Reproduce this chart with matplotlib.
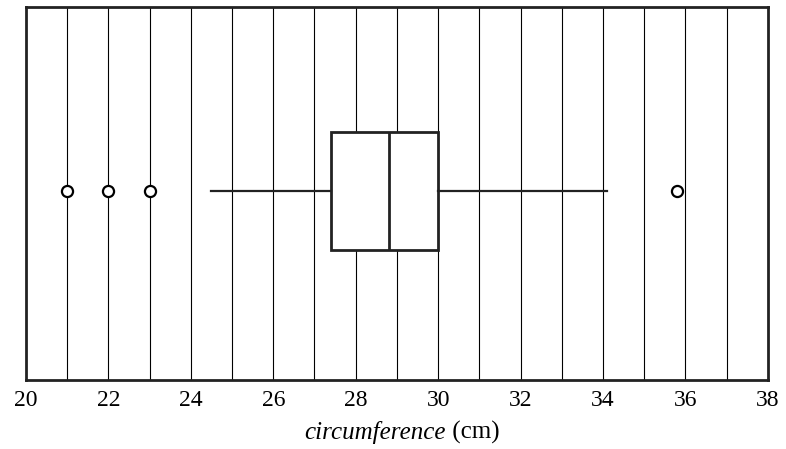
import matplotlib.pyplot as plt

# Box plot summary (cm)
whisker_low = 24.5
q1 = 27.4
median = 28.8
q3 = 30.0
whisker_high = 34.1
outliers = [21.0, 22.0, 23.0, 35.8]

x_ticks = [20, 22, 24, 26, 28, 30, 32, 34, 36, 38]

plt.rcParams["font.family"] = ["Liberation Serif", "DejaVu Serif"]

fig = plt.figure(figsize=(7.86, 4.49), dpi=100)
ax = fig.add_axes([0.033, 0.154, 0.944, 0.830])

# thin vertical grid at every centimetre
for x in range(21, 38):
    ax.axvline(x, color="black", linewidth=0.8, zorder=1)

stats = [{
    "whislo": whisker_low, "q1": q1, "med": median, "q3": q3,
    "whishi": whisker_high, "fliers": outliers,
}]
ax.bxp(
    stats, positions=[0.507], widths=0.316, vert=False, showcaps=False,
    patch_artist=True,
    boxprops=dict(facecolor="white", edgecolor="#222222", linewidth=2.0),
    medianprops=dict(color="#222222", linewidth=2.0),
    whiskerprops=dict(color="#222222", linewidth=1.6),
    flierprops=dict(marker="o", markerfacecolor="white", markeredgecolor="black",
                    markersize=8, markeredgewidth=1.6),
    zorder=3,
)

ax.set_xlim(20, 38)
ax.set_ylim(0, 1)
ax.set_xticks(x_ticks)
ax.set_xticklabels([str(t) for t in x_ticks], fontsize=17)
ax.set_yticks([])
ax.tick_params(axis="x", length=0, pad=7)
for s in ax.spines.values():
    s.set_linewidth(2.0)
    s.set_color("#222222")

# axis label: italic quantity, upright unit, whole label centred under the axes
ax.text(0.566, -0.142, "circumference", style="italic", fontsize=18,
        transform=ax.transAxes, ha="right", va="center")
ax.text(0.566, -0.142, " (cm)", fontsize=18,
        transform=ax.transAxes, ha="left", va="center")

fig.savefig("out.png", dpi=100)
